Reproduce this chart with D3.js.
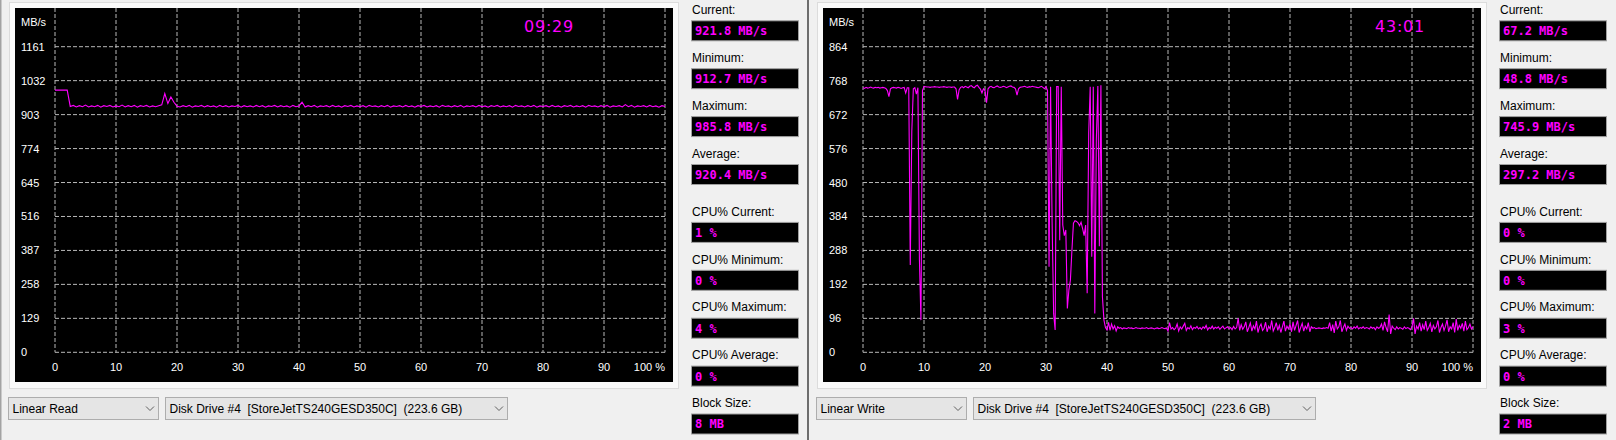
<!DOCTYPE html>
<html>
<head>
<meta charset="utf-8">
<script src="https://cdn.jsdelivr.net/npm/d3@7"></script>
<style>
  body { margin: 0; background: #f0f0f0; }
  svg { display: block; }
  text { font-family: "Liberation Sans", Arial, sans-serif; }
</style>
</head>
<body>
<div id="chart-container"></div>
<script>
// axis labels
var readTicks = [0, 129, 258, 387, 516, 645, 774, 903, 1032, 1161];
var writeTicks = [0, 96, 192, 288, 384, 480, 576, 672, 768, 864];
var pctTicks = [0, 10, 20, 30, 40, 50, 60, 70, 80, 90, 100];

// transfer rate in MB/s, read every 0.5 % (read) and 0.25 % (write)
var readStep = 0.5;
var readValues = [
  996,996,996,996,996,
  934,938,932,937,933,939,932,936,933,938,931,937,934,938,932,936,933,939,932,937,
  933,938,931,937,934,938,932,936,933,937,
  940,983,945,970,950,935,932,937,933,938,
  931,936,934,938,932,937,933,936,931,938,933,937,932,936,934,938,931,937,933,936,
  932,938,933,937,931,936,934,938,932,937,933,936,931,938,933,
  936,950,932,937,933,938,931,936,934,937,932,938,933,936,931,937,934,938,932,936,
  933,937,931,938,934,936,932,937,933,938,931,936,934,937,932,938,933,936,931,937,
  934,938,932,936,933,937,931,938,934,936,932,937,933,938,931,936,934,937,932,938,
  933,936,931,937,934,938,932,936,933,937,931,938,934,936,932,937,933,938,931,936,
  934,937,932,938,933,936,931,937,934,938,932,936,933,937,931,938,934,936,932,937,
  933,938,931,936,934,937,932,941,933,938,931,936,934,937,932,938,933,936,931,937,934
];

var writeStep = 0.25;
var writeValues = [
  748,746,749,747,748,750,748,747,749,748,
  749,747,748,749,748,746,740,723,745,748,
  749,748,747,749,748,746,748,749,733,748,
  748,247,624,745,748,730,748,260,91,740,752,
  751,750,750,749,750,750,751,750,750,749,750,750,751,750,749,750,750,749,750,
  750,745,715,742,749,751,748,752,750,748,
  752,754,750,748,753,755,749,744,733,745,
  740,706,745,750,752,749,748,751,753,750,
  749,750,752,751,748,750,752,753,750,749,
  745,727,745,749,750,751,752,750,749,751,
  750,752,751,750,749,748,750,752,749,745,
  751,740,242,751,369,110,63,751,751,317,
  751,360,330,346,124,176,204,289,365,372,
  370,366,358,368,350,330,360,167,620,751,
  270,751,110,600,753,300,755,157,91,70,63,
  85,62,80,66,75,60,72,68,70,66,69,68,67,70,68,69,67,68,70,68,
  68,67,69,68,68,70,67,68,69,68,66,68,69,67,68,70,68,67,69,60,
  84,66,70,64,68,80,60,72,66,74,82,62,70,66,75,64,70,68,73,66,
  70,65,72,68,76,63,70,67,74,66,71,68,72,65,70,74,66,69,72,67,
  70,64,73,66,70,96,62,78,65,72,86,58,70,83,60,75,66,88,56,72,
  80,62,68,85,58,74,66,90,60,70,84,62,76,56,72,88,60,74,66,80,
  58,86,62,76,90,56,70,82,60,74,66,84,58,72,68,70,67,68,69,68,
  67,69,68,70,68,84,60,78,55,88,66,72,90,58,70,80,62,74,68,70,
  66,72,68,74,66,70,68,72,67,70,69,66,72,68,70,64,72,68,70,80,
  62,86,70,58,107,52,74,68,64,72,66,70,68,65,72,67,70,68,64,72,
  96,52,74,66,84,60,78,64,88,62,70,82,58,76,66,72,90,56,70,80,
  62,74,92,58,72,66,84,56,94,62,76,68,82,60,88,64,70,80,66,72
];

var statLabels = ["Current:", "Minimum:", "Maximum:", "Average:",
  "CPU% Current:", "CPU% Minimum:", "CPU% Maximum:", "CPU% Average:", "Block Size:"];
var readStats = ["921.8 MB/s", "912.7 MB/s", "985.8 MB/s", "920.4 MB/s",
  "1 %", "0 %", "4 %", "0 %", "8 MB"];
var writeStats = ["67.2 MB/s", "48.8 MB/s", "745.9 MB/s", "297.2 MB/s",
  "0 %", "0 %", "3 %", "0 %", "2 MB"];
var modes = ["Linear Read", "Linear Write"];
var driveName = "Disk Drive #4  [StoreJetTS240GESD350C]  (223.6 GB)";
var timers = ["09:29", "43:01"];

var svg = d3.select("#chart-container")
  .append("svg")
    .attr("width", 1616)
    .attr("height", 440);

svg.append("rect")
  .attr("width", 1616).attr("height", 440)
  .attr("fill", "#f0f0f0");

// left window edge
svg.append("rect")
  .attr("x", 0).attr("y", 0).attr("width", 1.5).attr("height", 440)
  .attr("fill", "#a3a3a3");

drawPanel(0, readTicks, readValues, readStep, readStats, modes[0], timers[0], 549);
drawPanel(808, writeTicks, writeValues, writeStep, writeStats, modes[1], timers[1], 592);

// gap between the two windows
svg.append("rect")
  .attr("x", 807).attr("y", 0).attr("width", 2).attr("height", 440)
  .attr("fill", "#6d6d6d");

function drawPanel(ox, ticks, values, step, stats, mode, timer, timerX) {
  var g = svg.append("g")
      .attr("transform", "translate(" + ox + ",0)");

  // frame and plot background
  g.append("rect")
    .attr("x", 9.5).attr("y", 2.5).attr("width", 669).attr("height", 386)
    .attr("fill", "#fafafa").attr("stroke", "#dcdcdc");
  g.append("rect")
    .attr("x", 15).attr("y", 8).attr("width", 658).attr("height", 374)
    .attr("fill", "#000");

  var x = d3.scaleLinear().domain([0, 100]).range([55, 665]);
  var y = d3.scaleLinear().domain([0, ticks[ticks.length - 1]]).range([352.3, 46.7]);

  // dashed grid
  g.selectAll(".vgrid")
      .data(pctTicks)
    .enter().append("line")
      .attr("x1", function(d) { return x(d); })
      .attr("x2", function(d) { return x(d); })
      .attr("y1", 8).attr("y2", y(0))
      .attr("stroke", "#b8b8b8")
      .attr("stroke-dasharray", "4,2");
  g.selectAll(".hgrid")
      .data(ticks)
    .enter().append("line")
      .attr("x1", x(0)).attr("x2", x(100))
      .attr("y1", function(d) { return y(d); })
      .attr("y2", function(d) { return y(d); })
      .attr("stroke", "#b8b8b8")
      .attr("stroke-dasharray", "4,2");

  // y labels
  g.selectAll(".ylab")
      .data(ticks)
    .enter().append("text")
      .attr("x", 21)
      .attr("y", function(d) { return y(d); })
      .attr("dominant-baseline", "central")
      .attr("fill", "#fff")
      .style("font-size", "11px")
      .text(function(d) { return d; });
  g.append("text")
    .attr("x", 21).attr("y", 21.7)
    .attr("dominant-baseline", "central")
    .attr("fill", "#fff")
    .style("font-size", "11px")
    .text("MB/s");

  // x labels
  g.selectAll(".xlab")
      .data(pctTicks)
    .enter().append("text")
      .attr("x", function(d) { return x(d); })
      .attr("y", 367)
      .attr("dominant-baseline", "central")
      .attr("text-anchor", function(d) { return d == 100 ? "end" : "middle"; })
      .attr("fill", "#fff")
      .style("font-size", "11px")
      .text(function(d) { return d == 100 ? "100 %" : d; });

  // elapsed time
  g.append("text")
    .attr("x", timerX).attr("y", 26)
    .attr("dominant-baseline", "central")
    .attr("text-anchor", "middle")
    .attr("fill", "#ff00ff")
    .style("font-family", "'DejaVu Sans', sans-serif")
    .style("font-size", "16px")
    .style("letter-spacing", "0.8px")
    .text(timer);

  // transfer rate trace
  var line = d3.line()
    .x(function(d, i) { return x(i * step); })
    .y(function(d) { return y(d); });
  g.append("path")
    .datum(values)
    .attr("d", line)
    .attr("fill", "none")
    .attr("stroke", "#ff00ff")
    .attr("stroke-width", 1.1);

  // stats column
  var rows = g.selectAll(".stat")
      .data(stats)
    .enter().append("g")
      .attr("transform", function(d, i) {
        return "translate(0," + (10 + i * 47.9 + (i >= 4 ? 10 : 0)) + ")";
      });
  rows.append("text")
    .attr("x", 692).attr("y", 0)
    .attr("dominant-baseline", "central")
    .attr("fill", "#000")
    .style("font-size", "12px")
    .text(function(d, i) { return statLabels[i]; });
  rows.append("rect")
    .attr("x", 691.5).attr("y", 10.8).attr("width", 107).attr("height", 20)
    .attr("fill", "#000")
    .attr("stroke", "#a0a0a0");
  rows.append("text")
    .attr("x", 695).attr("y", 21.3)
    .attr("dominant-baseline", "central")
    .attr("fill", "#ff00ff")
    .style("font-family", "'DejaVu Sans Mono', monospace")
    .style("font-weight", "bold")
    .style("font-size", "12px")
    .text(function(d) { return d; });

  // combo boxes
  drawCombo(g, 8.5, 150, mode);
  drawCombo(g, 165.5, 342, driveName);
}

function drawCombo(g, cx, w, label) {
  g.append("rect")
    .attr("x", cx).attr("y", 397.5).attr("width", w).attr("height", 22)
    .attr("fill", "#e5e5e5").attr("stroke", "#adadad");
  g.append("text")
    .attr("x", cx + 4).attr("y", 408.5)
    .attr("dominant-baseline", "central")
    .attr("fill", "#000")
    .attr("xml:space", "preserve")
    .style("white-space", "pre")
    .style("font-size", "12px")
    .text(label);
  var ax = cx + w - 8.5;
  g.append("path")
    .attr("d", "M" + (ax - 4) + ",406.5L" + ax + ",410.5L" + (ax + 4) + ",406.5")
    .attr("fill", "none")
    .attr("stroke", "#606060");
}
</script>
</body>
</html>
